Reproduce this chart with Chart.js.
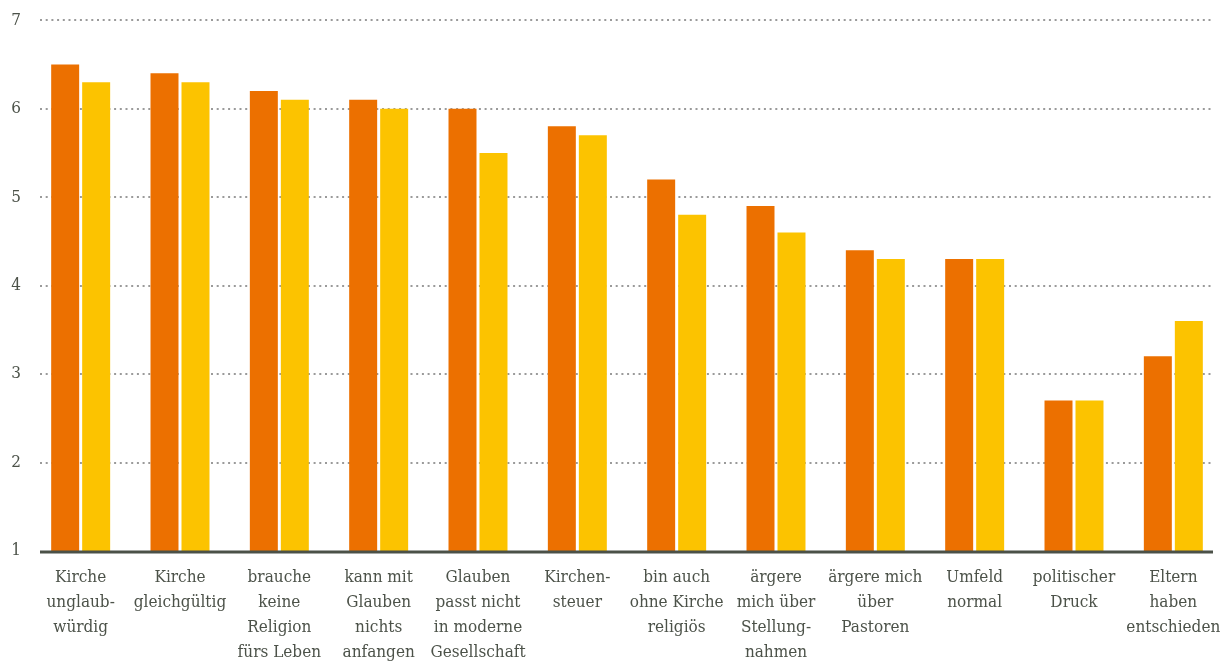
<!DOCTYPE html>
<html>
<head>
<meta charset="utf-8">
<script src="https://cdn.jsdelivr.net/npm/chart.js@4"></script>
<style>
  html, body { margin: 0; padding: 0; background: #fff; }
  #wrap { width: 1230px; height: 662px; }
</style>
</head>
<body>
<div id="wrap"><canvas id="chart_gruende"></canvas></div>
<script>
// Gründe für den Kirchenaustritt – Mittelwerte (Skala 1 bis 7)

const categories = [
    ['Kirche', 'unglaub-', 'würdig'],
    ['Kirche', 'gleichgültig'],
    ['brauche', 'keine', 'Religion', 'fürs Leben'],
    ['kann mit', 'Glauben', 'nichts', 'anfangen'],
    ['Glauben', 'passt nicht', 'in moderne', 'Gesellschaft'],
    ['Kirchen-', 'steuer'],
    ['bin auch', 'ohne Kirche', 'religiös'],
    ['ärgere', 'mich über', 'Stellung-', 'nahmen'],
    ['ärgere mich', 'über', 'Pastoren'],
    ['Umfeld', 'normal'],
    ['politischer', 'Druck'],
    ['Eltern', 'haben', 'entschieden']
];

const serieA = [6.5, 6.4, 6.2, 6.1, 6.0, 5.8, 5.2, 4.9, 4.4, 4.3, 2.7, 3.2];
const serieB = [6.3, 6.3, 6.1, 6.0, 5.5, 5.7, 4.8, 4.6, 4.3, 4.3, 2.7, 3.6];

const yTicks = [1, 2, 3, 4, 5, 6, 7];

const fuente = "'DejaVu Serif Condensed', 'Liberation Serif', serif";
const gris = '#4c5249';

// Líneas de fondo punteadas y línea base, dibujadas desde la escala Y
const lineasFondo = {
    id: 'lineasFondo',
    beforeDatasetsDraw(chart) {
        const ctx = chart.ctx;
        const y = chart.scales.y;
        const x0 = 40, x1 = 1213;
        ctx.save();
        ctx.strokeStyle = '#9a9a9a';
        ctx.lineWidth = 2;
        ctx.setLineDash([2, 3.7]);
        yTicks.slice(1).forEach(v => {
            const py = Math.round(y.getPixelForValue(v));
            ctx.beginPath();
            ctx.moveTo(x0, py);
            ctx.lineTo(x1, py);
            ctx.stroke();
        });
        ctx.restore();
    },
    afterDatasetsDraw(chart) {
        const ctx = chart.ctx;
        const py = chart.scales.y.getPixelForValue(yTicks[0]);
        ctx.save();
        ctx.strokeStyle = '#4b5148';
        ctx.lineWidth = 3;
        ctx.beginPath();
        ctx.moveTo(40, py + 1);
        ctx.lineTo(1213, py + 1);
        ctx.stroke();
        ctx.restore();
    }
};

const ctx = document.getElementById('chart_gruende').getContext('2d');

const chart = new Chart(ctx, {
    type: 'bar',
    data: {
        labels: categories,
        datasets: [{
            label: 'A',
            data: serieA,
            backgroundColor: '#ec7000',
            categoryPercentage: 0.624,
            barPercentage: 0.903
        }, {
            label: 'B',
            data: serieB,
            backgroundColor: '#fcc300',
            categoryPercentage: 0.624,
            barPercentage: 0.903
        }]
    },
    options: {
        responsive: true,
        maintainAspectRatio: false,
        animation: false,
        layout: { padding: { top: 12, right: 7, bottom: 0, left: 0 } },
        plugins: { legend: { display: false }, tooltip: { enabled: false } },
        scales: {
            x: {
                afterFit(scale) {
                    scale.height = 111;
                    scale.paddingLeft = 0;
                    scale.paddingRight = 0;
                },
                grid: { display: false, drawTicks: false },
                border: { display: false },
                ticks: {
                    autoSkip: false,
                    maxRotation: 0,
                    padding: 14,
                    color: gris,
                    font: { family: fuente, size: 17, lineHeight: 1.47 }
                }
            },
            y: {
                min: 1,
                max: 7,
                afterFit(scale) { scale.width = 31; },
                afterBuildTicks(scale) { scale.ticks = yTicks.map(v => ({ value: v })); },
                grid: { display: false, drawTicks: false },
                border: { display: false },
                ticks: {
                    padding: 10,
                    color: gris,
                    font: { family: fuente, size: 17 }
                }
            }
        }
    },
    plugins: [lineasFondo]
});
</script>
</body>
</html>
